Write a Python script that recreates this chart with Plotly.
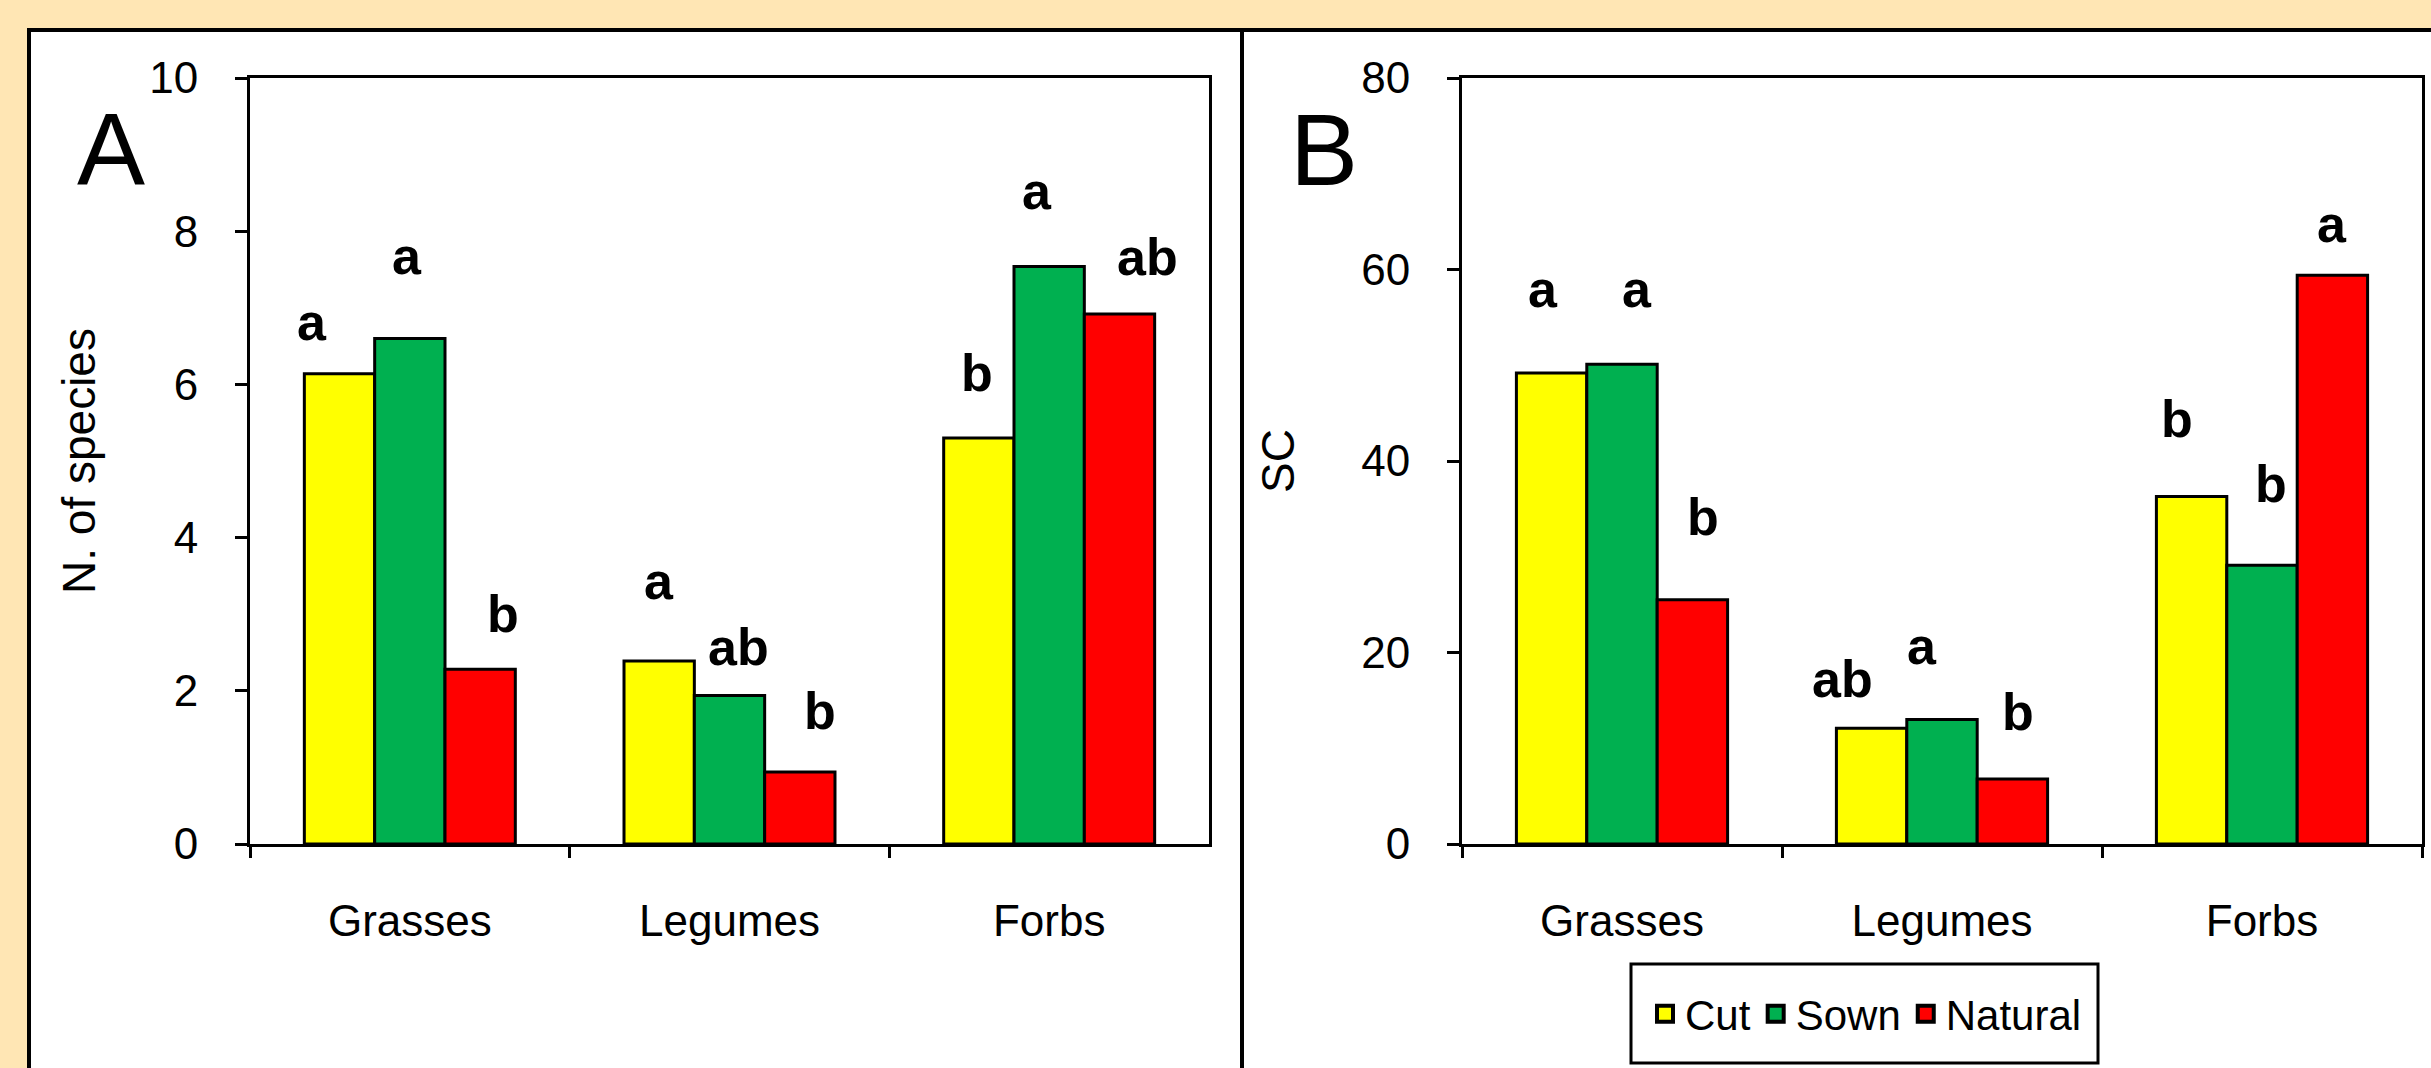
import plotly.graph_objects as go

# ---- data -------------------------------------------------------------
categories = ["Grasses", "Legumes", "Forbs"]
series_names = ["Cut", "Sown", "Natural"]

# Panel A: number of species
species_cut = [6.14, 2.39, 5.30]
species_sown = [6.60, 1.94, 7.54]
species_natural = [2.28, 0.94, 6.92]

# Panel B: SC
sc_cut = [49.2, 12.1, 36.3]
sc_sown = [50.1, 13.0, 29.1]
sc_natural = [25.5, 6.8, 59.4]

# significance letters (per series, per category)
species_letters_cut = ["a", "a", "b"]
species_letters_sown = ["a", "ab", "a"]
species_letters_natural = ["b", "b", "ab"]

sc_letters_cut = ["a", "ab", "b"]
sc_letters_sown = ["a", "a", "b"]
sc_letters_natural = ["b", "b", "a"]

y_ticks_a = [0, 2, 4, 6, 8, 10]
y_ticks_b = [0, 20, 40, 60, 80]

# ---- layout helpers ---------------------------------------------------
W, H = 2431, 1068
colors = {"Cut": "#FFFF00", "Sown": "#00B050", "Natural": "#FF0000"}
FONT = "Liberation Sans, Arial, sans-serif"


def px(x):
    return x / W


def py(y):
    return 1 - y / H


# letter placement: height (data units) and horizontal nudge (px)
species_letter_y = {
    "Cut": [6.82, 3.44, 6.15],
    "Sown": [7.67, 2.57, 8.53],
    "Natural": [3.00, 1.73, 7.66],
}
species_letter_dx = {
    "Cut": [-98, -71, -72],
    "Sown": [-3, 9, -12],
    "Natural": [93, 90, 98],
}
sc_letter_y = {
    "Cut": [58.0, 17.2, 44.4],
    "Sown": [58.0, 20.7, 37.6],
    "Natural": [34.2, 13.8, 64.8],
}
sc_letter_dx = {
    "Cut": [-79, -99, -85],
    "Sown": [15, -20, 9],
    "Natural": [81, 76, 70],
}

fig = go.Figure()

panel_a = {"Cut": species_cut, "Sown": species_sown, "Natural": species_natural}
panel_b = {"Cut": sc_cut, "Sown": sc_sown, "Natural": sc_natural}
letters_a = {"Cut": species_letters_cut, "Sown": species_letters_sown,
             "Natural": species_letters_natural}
letters_b = {"Cut": sc_letters_cut, "Sown": sc_letters_sown,
             "Natural": sc_letters_natural}

for xa, ya, data in [("x", "y", panel_a), ("x2", "y2", panel_b)]:
    for name in series_names:
        fig.add_trace(go.Bar(
            x=categories, y=data[name], name=name, legendgroup=name,
            marker=dict(color=colors[name], line=dict(color="black", width=3)),
            xaxis=xa, yaxis=ya, showlegend=False,
        ))

# legend entries with square swatches
for name in series_names:
    fig.add_trace(go.Scatter(
        x=[None], y=[None], mode="markers", name=name, legendgroup=name,
        marker=dict(symbol="square", size=16, color=colors[name],
                    line=dict(color="black", width=4)),
        xaxis="x2", yaxis="y2", showlegend=True, hoverinfo="skip",
    ))

annotations = []
for ref, letters, ly, ldx in [("", letters_a, species_letter_y, species_letter_dx),
                              ("2", letters_b, sc_letter_y, sc_letter_dx)]:
    for name in series_names:
        for i, cat in enumerate(categories):
            annotations.append(dict(
                x=cat, y=ly[name][i], xref="x" + ref, yref="y" + ref,
                text=letters[name][i], showarrow=False, xshift=ldx[name][i],
                xanchor="center", yanchor="middle",
                font=dict(family=FONT, size=52, color="black", weight="bold"),
            ))

# panel letters
for label, xpos in [("A", 111), ("B", 1324)]:
    annotations.append(dict(
        x=px(xpos), y=py(150), xref="paper", yref="paper", text=label,
        showarrow=False, xanchor="center", yanchor="middle",
        font=dict(family=FONT, size=102, color="black"),
    ))

axis_common = dict(
    showline=True, linecolor="black", linewidth=3, mirror=True,
    ticks="outside", tickcolor="black", tickwidth=3,
    showgrid=False, zeroline=False, automargin=False,
    tickfont=dict(family=FONT, size=44, color="black"),
)

fig.update_layout(
    template="none",
    width=W, height=H,
    margin=dict(l=0, r=0, t=0, b=0, pad=0),
    paper_bgcolor="#FFE6B4",
    plot_bgcolor="white",
    barmode="group", bargap=0.34, bargroupgap=0,
    font=dict(family=FONT, color="black"),
    xaxis=dict(domain=[px(250), px(1209)], anchor="y", type="category",
               tickson="boundaries", ticklen=11, ticklabelstandoff=36,
               **axis_common),
    yaxis=dict(domain=[py(844), py(78)], anchor="x", range=[0, 10],
               tickvals=y_ticks_a, ticklen=12, ticklabelstandoff=28,
               title=dict(text="N. of species", standoff=40,
                          font=dict(family=FONT, size=46, color="black")),
               **axis_common),
    xaxis2=dict(domain=[px(1462), px(2422)], anchor="y2", type="category",
                tickson="boundaries", ticklen=11, ticklabelstandoff=36,
                **axis_common),
    yaxis2=dict(domain=[py(844), py(78)], anchor="x2", range=[0, 80],
                tickvals=y_ticks_b, ticklen=12, ticklabelstandoff=28,
                title=dict(text="SC", standoff=53,
                           font=dict(family=FONT, size=46, color="black")),
                **axis_common),
    legend=dict(
        orientation="h", x=px(1866), y=py(1014), xanchor="center",
        yanchor="middle", bgcolor="rgba(0,0,0,0)", borderwidth=0,
        font=dict(family=FONT, size=42, color="black"),
        traceorder="normal", itemwidth=30,
    ),
    annotations=annotations,
    shapes=[
        dict(type="rect", xref="paper", yref="paper",
             x0=px(29), x1=1.05, y0=-0.05, y1=py(30),
             fillcolor="white", line=dict(color="black", width=4), layer="below"),
        dict(type="line", xref="paper", yref="paper",
             x0=px(1242), x1=px(1242), y0=-0.05, y1=py(30),
             line=dict(color="black", width=4), layer="below"),
        # legend frame
        dict(type="rect", xref="paper", yref="paper",
             x0=px(1631), x1=px(2098), y0=py(1063), y1=py(964),
             fillcolor="white", line=dict(color="black", width=3), layer="below"),
    ],
)

fig.write_html("out.html")
